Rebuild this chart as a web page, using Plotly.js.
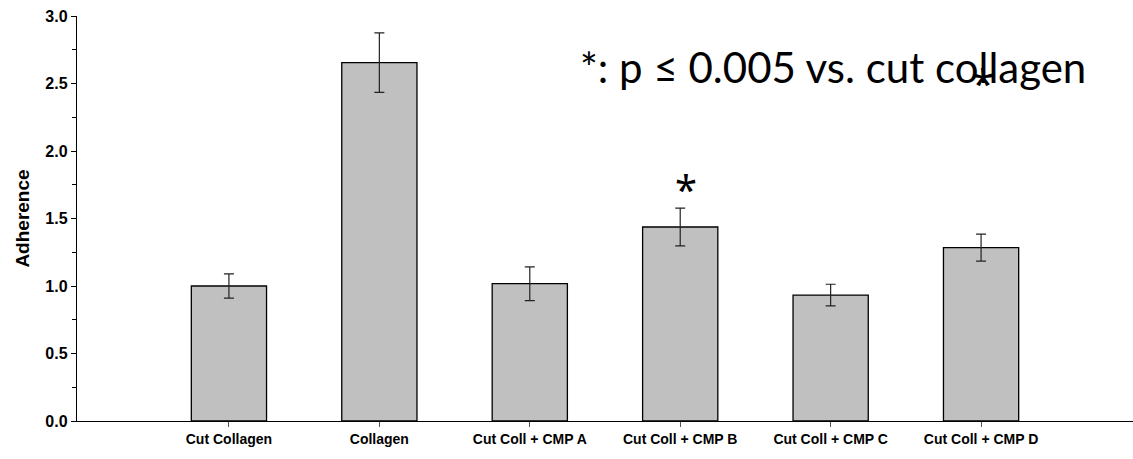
<!DOCTYPE html>
<html>
<head>
<meta charset="utf-8">
<script src="https://cdn.plot.ly/plotly-3.0.1.min.js"></script>
<style>html,body{margin:0;padding:0;background:#fff;}#chart{width:1133px;height:459px;}</style>
</head>
<body>
<div id="chart"></div>
<script>
const categories = ["Cut Collagen", "Collagen", "Cut Coll + CMP A", "Cut Coll + CMP B", "Cut Coll + CMP C", "Cut Coll + CMP D"];
const adherence = [1.00, 2.655, 1.017, 1.437, 0.933, 1.284];
const errors = [0.09, 0.22, 0.125, 0.14, 0.08, 0.10];
const yTickVals = [0, 0.5, 1.0, 1.5, 2.0, 2.5, 3.0];
const yTickText = ["0.0", "0.5", "1.0", "1.5", "2.0", "2.5", "3.0"];
const noteText = "*: p \u2264 0.005 vs. cut collagen";

const trace = {
  type: "bar",
  x: categories,
  y: adherence,
  width: 0.5,
  marker: {color: "#c0c0c0", line: {color: "#000", width: 1.3}},
  error_y: {type: "data", array: errors, visible: true, color: "#222", thickness: 1.2, width: 5},
  hoverinfo: "x+y"
};

const layout = {
  width: 1133, height: 459,
  margin: {l: 77, r: 0, t: 16, b: 38, pad: 0},
  paper_bgcolor: "#fff", plot_bgcolor: "#fff",
  showlegend: false,
  bargap: 0.5,
  font: {family: "Liberation Sans, Arial, sans-serif", color: "#000"},
  xaxis: {
    type: "category",
    range: [-1.01, 6.01],
    showline: true, linecolor: "#000", linewidth: 1.2,
    ticks: "outside", ticklen: 5, tickcolor: "#555", tickwidth: 1,
    showgrid: false, zeroline: false,
    tickfont: {family: "Liberation Sans, Arial, sans-serif", size: 14, color: "#000", weight: "bold"},
    fixedrange: true
  },
  yaxis: {
    range: [0, 3],
    tickvals: yTickVals, ticktext: yTickText,
    showline: true, linecolor: "#000", linewidth: 1.2,
    ticks: "outside", ticklen: 5, tickcolor: "#000", tickwidth: 1,
    minor: {dtick: 0.25, ticks: "outside", ticklen: 4, tickcolor: "#000", tickwidth: 1, showgrid: false},
    showgrid: false, zeroline: false,
    tickfont: {family: "Liberation Sans, Arial, sans-serif", size: 16, color: "#000", weight: "bold"},
    title: {text: "Adherence", font: {family: "Liberation Sans, Arial, sans-serif", size: 19, color: "#000", weight: "bold"}, standoff: 10},
    fixedrange: true
  },
  annotations: [
    {xref: "paper", yref: "paper", x: 0.4744, y: 0.875, xanchor: "left", yanchor: "middle",
     text: noteText, showarrow: false, font: {family: "Lato, Noto Sans, sans-serif", size: 42, color: "#000"}},
    {xref: "x", yref: "y", x: categories[3], y: 1.725, xanchor: "center", yanchor: "middle", xshift: 6,
     text: "*", showarrow: false, font: {family: "Noto Sans, sans-serif", size: 40, color: "#000"}},
    {xref: "x", yref: "y", x: 5.01, y: 2.51, xanchor: "center", yanchor: "middle",
     text: "*", showarrow: false, font: {family: "Noto Sans, sans-serif", size: 40, color: "#000"}}
  ]
};

Plotly.newPlot("chart", [trace], layout, {displayModeBar: false, staticPlot: true});
</script>
</body>
</html>
